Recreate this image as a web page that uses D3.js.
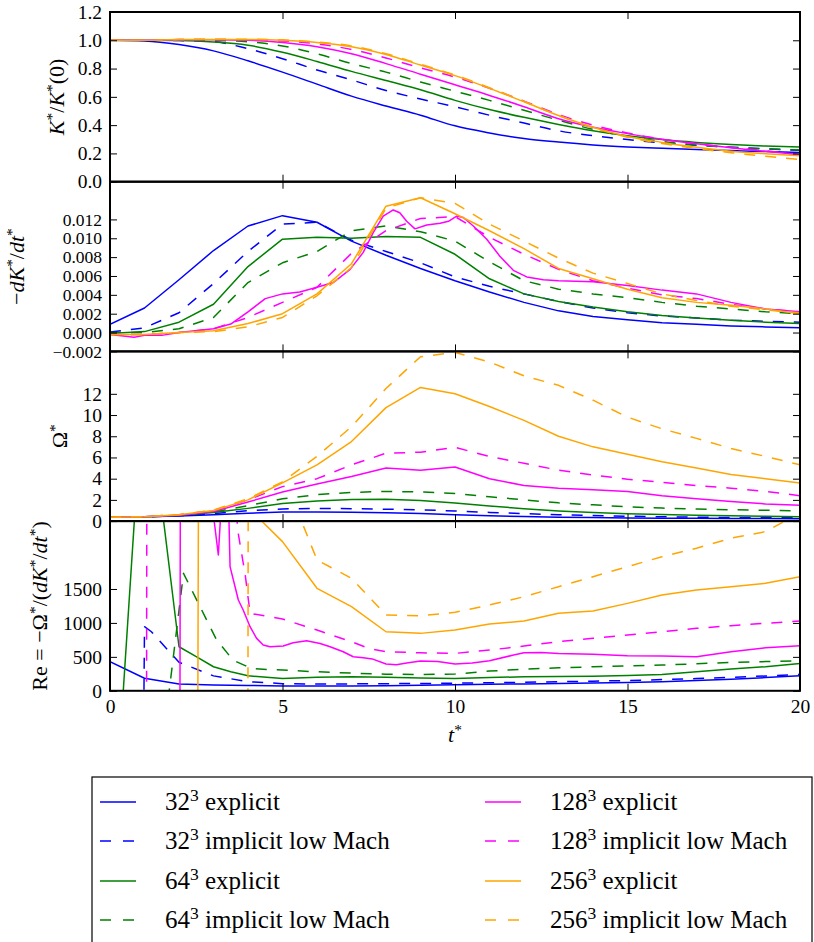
<!DOCTYPE html>
<html>
<head>
<meta charset="utf-8">
<script src="https://cdn.jsdelivr.net/npm/d3@7"></script>
<style>
  body { margin: 0; background: #fff; }
  svg { display: block; }
  svg text { font-family: "Liberation Serif", "Tinos", "Times New Roman", "Times", "Nimbus Roman", "FreeSerif", "Noto Serif", "DejaVu Serif", Georgia, serif; }
</style>
</head>
<body>
<svg id="chart" width="814" height="942"></svg>
<script>
// ---------------- data ----------------
const times = [0, 1, 2, 3, 4, 5, 6, 7, 8, 9, 10, 11, 12, 13, 14, 15, 16, 17, 18, 19, 20];

const seriesNames = ["32|explicit", "32|implicit low Mach", "64|explicit", "64|implicit low Mach",
                     "128|explicit", "128|implicit low Mach", "256|explicit", "256|implicit low Mach"];
const seriesColors = ["#0000ff", "#0000ff", "#008000", "#008000", "#ff00ff", "#ff00ff", "#ffa500", "#ffa500"];
const seriesDashed = [false, true, false, true, false, true, false, true];

// K*/K*(0)
const energy32Exp  = [1.0, 0.995, 0.97, 0.925, 0.855, 0.775, 0.69, 0.605, 0.535, 0.47, 0.395, 0.345, 0.305, 0.28, 0.26, 0.246, 0.236, 0.227, 0.22, 0.213, 0.207];
const energy32Imp  = [1.0, 1.0, 0.998, 0.99, 0.94, 0.87, 0.79, 0.72, 0.645, 0.585, 0.53, 0.47, 0.415, 0.36, 0.325, 0.298, 0.275, 0.258, 0.244, 0.232, 0.222];
const energy64Exp  = [1.0, 1.0, 0.998, 0.988, 0.965, 0.915, 0.85, 0.78, 0.715, 0.65, 0.575, 0.51, 0.455, 0.405, 0.36, 0.325, 0.298, 0.278, 0.263, 0.252, 0.245];
const energy64Imp  = [1.0, 1.0, 1.0, 0.998, 0.99, 0.96, 0.905, 0.835, 0.775, 0.705, 0.64, 0.575, 0.505, 0.435, 0.37, 0.32, 0.285, 0.26, 0.243, 0.232, 0.225];
const energy128Exp = [1.0, 1.0, 1.003, 1.003, 1.0, 0.985, 0.955, 0.905, 0.835, 0.76, 0.685, 0.61, 0.53, 0.445, 0.385, 0.34, 0.3, 0.268, 0.24, 0.215, 0.19];
const energy128Imp = [1.0, 1.0, 1.005, 1.005, 1.003, 0.995, 0.975, 0.935, 0.875, 0.805, 0.74, 0.66, 0.57, 0.475, 0.4, 0.345, 0.3, 0.268, 0.242, 0.218, 0.19];
const energy256Exp = [1.0, 1.0, 1.005, 1.005, 1.005, 1.0, 0.985, 0.955, 0.9, 0.825, 0.75, 0.66, 0.565, 0.468, 0.385, 0.32, 0.278, 0.243, 0.215, 0.198, 0.184];
const energy256Imp = [1.0, 1.0, 1.005, 1.008, 1.008, 1.003, 0.988, 0.96, 0.905, 0.83, 0.755, 0.665, 0.568, 0.468, 0.382, 0.315, 0.27, 0.235, 0.205, 0.18, 0.157];

// -dK*/dt*
const decay32Exp  = [0.00087, 0.0026, 0.0056, 0.0087, 0.0113, 0.0124, 0.0117, 0.0097, 0.0082, 0.0068, 0.0055, 0.0043, 0.0032, 0.0023, 0.0017, 0.00135, 0.00105, 0.00087, 0.0007, 0.0006, 0.0005];
const decay32Imp  = [0.00006, 0.0005, 0.0021, 0.0052, 0.0086, 0.0115, 0.0117, 0.0098, 0.0086, 0.0074, 0.0059, 0.0049, 0.0041, 0.0033, 0.0026, 0.0021, 0.00175, 0.00155, 0.0013, 0.0012, 0.0011];
const decay64Exp  = [-0.0001, 0.0001, 0.0011, 0.003, 0.007, 0.0099, 0.0101, 0.01, 0.0102, 0.0101, 0.0083, 0.0057, 0.0041, 0.0033, 0.0027, 0.0022, 0.0018, 0.00155, 0.0013, 0.0011, 0.00095];
const decay64Imp  = [0.0, 0.0, 0.0004, 0.0016, 0.0053, 0.0074, 0.0086, 0.0108, 0.0113, 0.0107, 0.0097, 0.0075, 0.0055, 0.0046, 0.0041, 0.0037, 0.0032, 0.0028, 0.0025, 0.0022, 0.002];
const decay128ExpT = [0, 0.7, 1, 1.5, 2, 3, 3.5, 4, 4.5, 5, 5.5, 6, 6.47, 6.96, 7.34, 7.63, 7.92, 8.21, 8.4, 8.6, 8.84, 9.18, 9.57, 9.81, 10.05, 10.24, 10.53, 10.92, 11.3, 11.69, 12.08, 12.56, 13, 14, 15, 16, 17, 18, 19, 20];
const decay128Exp  = [-0.0002, -0.0005, -0.0003, -0.0003, 0.0, 0.0004, 0.0009, 0.0022, 0.0036, 0.0041, 0.0043, 0.0048, 0.0053, 0.0067, 0.0085, 0.0106, 0.01235, 0.013, 0.0127, 0.0118, 0.011, 0.0114, 0.0116, 0.0118, 0.01235, 0.0122, 0.0113, 0.0099, 0.0081, 0.0066, 0.0059, 0.0056, 0.0055, 0.0054, 0.005, 0.0045, 0.0041, 0.0032, 0.0025, 0.0022];
const decay128Imp = [-0.0002, -0.0002, 0.0, 0.0004, 0.0016, 0.0032, 0.0048, 0.0084, 0.0108, 0.0121, 0.0123, 0.0101, 0.0083, 0.0067, 0.0055, 0.0047, 0.004, 0.0036, 0.003, 0.0025, 0.0022];
const decay256Exp = [-0.0002, -0.0002, 0.0, 0.0002, 0.00095, 0.002, 0.0041, 0.0073, 0.0134, 0.0143, 0.0126, 0.0108, 0.0089, 0.0068, 0.0057, 0.0046, 0.0037, 0.0032, 0.0029, 0.0025, 0.002];
const decay256Imp = [-0.0002, -0.0002, 0.0, 0.0001, 0.0006, 0.0016, 0.0039, 0.0069, 0.0132, 0.0143, 0.0137, 0.0115, 0.0097, 0.0079, 0.0063, 0.0052, 0.0041, 0.0034, 0.0028, 0.0024, 0.0021];

// Omega*
const enstrophy32Exp  = [0.37, 0.4, 0.48, 0.6, 0.74, 0.85, 0.86, 0.83, 0.78, 0.72, 0.6, 0.5, 0.43, 0.37, 0.33, 0.3, 0.28, 0.26, 0.25, 0.24, 0.23];
const enstrophy32Imp  = [0.37, 0.4, 0.5, 0.7, 0.98, 1.15, 1.2, 1.17, 1.12, 1.06, 0.95, 0.82, 0.7, 0.6, 0.52, 0.46, 0.41, 0.37, 0.34, 0.32, 0.3];
const enstrophy64Exp  = [0.37, 0.42, 0.55, 0.8, 1.2, 1.65, 1.9, 2.03, 2.05, 1.95, 1.7, 1.42, 1.17, 0.95, 0.8, 0.7, 0.62, 0.56, 0.5, 0.45, 0.42];
const enstrophy64Imp  = [0.37, 0.42, 0.58, 0.85, 1.45, 2.1, 2.5, 2.7, 2.8, 2.75, 2.6, 2.3, 2.0, 1.72, 1.53, 1.35, 1.23, 1.14, 1.07, 1.02, 0.97];
const enstrophy128Exp = [0.37, 0.42, 0.55, 0.9, 1.8, 2.75, 3.5, 4.2, 5.0, 4.8, 5.1, 4.0, 3.35, 3.1, 2.95, 2.8, 2.4, 2.1, 1.85, 1.62, 1.5];
const enstrophy128Imp = [0.37, 0.42, 0.6, 1.0, 2.0, 3.25, 4.0, 5.3, 6.4, 6.5, 6.95, 6.1, 5.45, 4.8, 4.35, 3.95, 3.65, 3.35, 3.1, 2.8, 2.4];
const enstrophy256Exp = [0.37, 0.42, 0.6, 1.0, 2.0, 3.6, 5.3, 7.5, 10.7, 12.6, 12.0, 10.8, 9.5, 8.0, 7.0, 6.3, 5.6, 5.0, 4.4, 4.0, 3.6];
const enstrophy256Imp = [0.37, 0.42, 0.6, 1.05, 2.1, 3.7, 6.1, 8.9, 12.5, 15.5, 15.9, 15.0, 13.7, 12.8, 11.4, 9.8, 8.7, 7.8, 6.85, 6.1, 5.3];

// Re = -Omega*/(dK*/dt*): [t*, Re]; negative Re lies below the axis
const reynolds32Exp = [[0, 430], [1, 185], [2, 100], [3, 85], [4, 78], [5, 72], [6, 70], [7, 72], [8, 75], [9, 80], [10, 88], [11, 95], [12, 102], [13, 108], [14, 115], [15, 123], [16, 135], [17, 150], [18, 170], [19, 195], [20, 220]];
const reynolds32Imp = [[0, -60000], [1, 944], [1.2, 870], [1.5, 700], [2, 420], [3, 220], [4, 135], [5, 105], [6, 100], [7, 102], [8, 105], [9, 108], [10, 112], [11, 118], [12, 125], [13, 133], [14, 142], [15, 152], [16, 165], [17, 180], [18, 198], [19, 218], [20, 240]];
const reynolds64Exp = [[0, -3000], [1, 4800], [2, 649], [2.5, 502], [3, 354], [3.5, 280], [4, 221], [5, 182], [6, 200], [7, 206], [8, 200], [9, 190], [10, 183], [11, 195], [12, 206], [13, 210], [14, 216], [15, 225], [16, 241], [17, 280], [18, 320], [19, 354], [20, 403]];
const reynolds64Imp = [[0, -3000], [1, -3000], [2.13, 1731], [2.56, 1290], [3.09, 749], [3.57, 450], [4.1, 330], [4.54, 315], [5, 305], [6, 280], [7, 260], [8, 245], [9, 240], [10, 246], [11, 290], [12, 320], [13, 338], [14, 354], [15, 366], [16, 379], [17, 398], [18, 418], [19, 430], [20, 443]];
const reynolds128Exp = [[0, -8000], [2.0, -8000], [2.06, 9000], [2.9, 3000], [3.14, 2001], [3.22, 2700], [3.44, 2700], [3.48, 1829], [3.72, 1338], [3.86, 1190], [4.06, 944], [4.25, 772], [4.44, 674], [4.64, 649], [5.02, 659], [5.31, 708], [5.7, 738], [6.09, 698], [6.38, 649], [6.76, 575], [7.05, 502], [7.34, 487], [7.6, 470], [8.0, 395], [8.3, 383], [8.6, 410], [9.0, 438], [9.5, 430], [10, 394], [10.5, 410], [11, 443], [11.7, 527], [12, 561], [12.5, 565], [13, 551], [14, 537], [15, 516], [16, 512], [17, 502], [18, 575], [19, 634], [20, 664]];
const reynolds128Imp = [[0, -8000], [1.04, -8000], [1.08, 8000], [3, 8000], [3.7, 2370], [3.92, 1706], [4.06, 1141], [5, 1057], [6, 895], [7, 723], [7.5, 625], [8, 575], [9, 560], [10, 551], [11, 600], [12, 660], [13, 723], [14, 773], [15, 821], [16, 870], [17, 920], [18, 959], [19, 994], [20, 1028]];
const reynolds256Exp = [[0, -8000], [2.5, -8000], [2.6, 9000], [4, 2700], [5, 2198], [6, 1510], [7, 1239], [8, 870], [9, 846], [10, 895], [11, 984], [12, 1028], [13, 1141], [14, 1175], [15, 1288], [16, 1411], [17, 1485], [18, 1534], [19, 1583], [20, 1681]];
const reynolds256Imp = [[0, -8000], [3.98, -8000], [4.02, 9000], [5, 3200], [6, 1927], [7, 1657], [8, 1116], [9, 1106], [10, 1156], [11, 1264], [12, 1386], [13, 1534], [14, 1681], [15, 1829], [16, 1976], [17, 2100], [18, 2248], [19, 2345], [20, 2620]];

const xTicks = [0, 5, 10, 15, 20];
const energyTicks = [0.0, 0.2, 0.4, 0.6, 0.8, 1.0, 1.2];
const decayTicks = [-0.002, 0.0, 0.002, 0.004, 0.006, 0.008, 0.010, 0.012];
const enstrophyTicks = [0, 2, 4, 6, 8, 10, 12];
const reynoldsTicks = [0, 500, 1000, 1500];

// ---------------- helpers ----------------
const onGrid = vals => times.map((t, i) => [t, vals[i]]);
const pair = (ts, vals) => ts.map((t, i) => [t, vals[i]]);

const panels = [
  { domain: [0, 1.2], ticks: energyTicks, fmt: d3.format(".1f"), curve: d3.curveMonotoneX, tickFont: 19.5,
    series: [energy32Exp, energy32Imp, energy64Exp, energy64Imp, energy128Exp, energy128Imp, energy256Exp, energy256Imp].map(onGrid),
    label: [["K", "i"], ["*", "s"], ["/", ""], ["K", "i"], ["*", "s"], ["(0)", ""]], labelX: 64 },
  { domain: [-0.002, 0.016], ticks: decayTicks, fmt: d3.format(".3f"), curve: d3.curveLinear, tickFont: 17.5,
    series: [onGrid(decay32Exp), onGrid(decay32Imp), onGrid(decay64Exp), onGrid(decay64Imp),
             pair(decay128ExpT, decay128Exp), onGrid(decay128Imp), onGrid(decay256Exp), onGrid(decay256Imp)],
    label: [["\u2212", ""], ["dK", "i"], ["*", "s"], ["/", ""], ["dt", "i"], ["*", "s"]], labelX: 24 },
  { domain: [0, 16], ticks: enstrophyTicks, fmt: d3.format("d"), curve: d3.curveLinear, tickFont: 19.5,
    series: [enstrophy32Exp, enstrophy32Imp, enstrophy64Exp, enstrophy64Imp, enstrophy128Exp, enstrophy128Imp, enstrophy256Exp, enstrophy256Imp].map(onGrid),
    label: [["\u03a9", ""], ["*", "s"]], labelX: 67 },
  { domain: [0, 2500], ticks: reynoldsTicks, fmt: d3.format("d"), curve: d3.curveLinear, tickFont: 19.5,
    series: [reynolds32Exp, reynolds32Imp, reynolds64Exp, reynolds64Imp, reynolds128Exp, reynolds128Imp, reynolds256Exp, reynolds256Imp],
    label: [["Re = \u2212\u03a9", ""], ["*", "s"], ["/(", ""], ["dK", "i"], ["*", "s"], ["/", ""], ["dt", "i"], ["*", "s"], [")", ""]], labelX: 47 }
];

// ---------------- layout ----------------
const plotLeft = 110, plotRight = 800, plotTop = 12, panelH = 169.7;
const tickLen = 7;
const dash = "11,10";

const svg = d3.select("#chart");
const x = d3.scaleLinear().domain([0, 20]).range([plotLeft, plotRight]);

function rich(sel, parts, size, supShift) {
  let shift = 0;
  parts.forEach(([txt, flag]) => {
    const ts = sel.append("tspan").text(txt);
    const target = flag === "s" ? -supShift : 0;
    if (target !== shift) { ts.attr("dy", target - shift); shift = target; }
    if (flag === "s") ts.attr("font-size", size * 0.7);
    if (flag === "i") ts.attr("font-style", "italic");
  });
}

panels.forEach((p, pi) => {
  const top = plotTop + pi * panelH, bottom = top + panelH;
  const y = d3.scaleLinear().domain(p.domain).range([bottom, top]);
  const g = svg.append("g");

  const clipId = "clip" + pi;
  svg.append("clipPath").attr("id", clipId)
    .append("rect").attr("x", plotLeft).attr("y", top).attr("width", plotRight - plotLeft).attr("height", panelH);

  const line = d3.line().x(d => x(d[0])).y(d => y(d[1])).curve(p.curve);
  const lines = g.append("g").attr("clip-path", `url(#${clipId})`);
  p.series.forEach((s, si) => {
    lines.append("path").datum(s)
      .attr("d", line)
      .attr("fill", "none")
      .attr("stroke", seriesColors[si])
      .attr("stroke-width", 1.5)
      .attr("stroke-linejoin", "round")
      .attr("stroke-dasharray", seriesDashed[si] ? dash : null);
  });

  // axes with inward ticks on all four sides
  const styleAxis = size => a => {
    a.attr("font-family", null).attr("font-size", size);
    a.select(".domain").remove();
    a.selectAll(".tick line").attr("stroke", "#000").attr("stroke-width", 1);
    a.selectAll(".tick text").attr("fill", "#000");
  };
  g.append("g").attr("transform", `translate(${plotLeft},0)`)
    .call(d3.axisLeft(y).tickValues(p.ticks).tickFormat(p.fmt).tickSize(-tickLen).tickPadding(8))
    .call(styleAxis(p.tickFont));
  g.append("g").attr("transform", `translate(${plotRight},0)`)
    .call(d3.axisRight(y).tickValues(p.ticks).tickFormat("").tickSize(-tickLen))
    .call(styleAxis(19.5));
  g.append("g").attr("transform", `translate(0,${top})`)
    .call(d3.axisTop(x).tickValues(xTicks).tickFormat("").tickSize(-tickLen))
    .call(styleAxis(19.5));
  const bx = g.append("g").attr("transform", `translate(0,${bottom})`)
    .call(d3.axisBottom(x).tickValues(xTicks).tickFormat(pi === panels.length - 1 ? d3.format("d") : "").tickSize(-tickLen).tickPadding(8))
    .call(styleAxis(19.5));
  bx.selectAll(".tick text").attr("dy", "0.71em");

  g.append("rect")
    .attr("x", plotLeft).attr("y", top).attr("width", plotRight - plotLeft).attr("height", panelH)
    .attr("fill", "none").attr("stroke", "#000").attr("stroke-width", 2);

  // y-axis title
  const lbl = g.append("text")
    .attr("transform", `translate(${p.labelX},${(top + bottom) / 2}) rotate(-90)`)
    .attr("text-anchor", "middle")
    .attr("font-size", 22).attr("fill", "#000");
  rich(lbl, p.label, 22, 7);
});

// x-axis title
const xl = svg.append("text")
  .attr("x", x(10)).attr("y", 742)
  .attr("text-anchor", "middle")
  .attr("font-size", 22).attr("fill", "#000");
rich(xl, [["t", "i"], ["*", "s"]], 22, 7);

// ---------------- legend ----------------
const legend = svg.append("g");
legend.append("rect")
  .attr("x", 92).attr("y", 777).attr("width", 720).attr("height", 200)
  .attr("fill", "#fff").attr("stroke", "#000").attr("stroke-width", 1.2);

const rowY = [802, 841, 881, 920];
const colX = [100, 485];
seriesNames.forEach((name, i) => {
  const col = Math.floor(i / 4), row = i % 4;
  const lx = colX[col], ly = rowY[row];
  legend.append("line")
    .attr("x1", lx).attr("x2", lx + 36).attr("y1", ly).attr("y2", ly)
    .attr("stroke", seriesColors[i]).attr("stroke-width", 1.5)
    .attr("stroke-dasharray", seriesDashed[i] ? "11,12" : null);
  const [res, kind] = name.split("|");
  const t = legend.append("text")
    .attr("x", lx + 65).attr("y", ly + 8)
    .attr("font-size", 25).attr("fill", "#000");
  rich(t, [[res, ""], ["3", "s"], [" " + kind, ""]], 25, 9);
});
</script>
</body>
</html>
